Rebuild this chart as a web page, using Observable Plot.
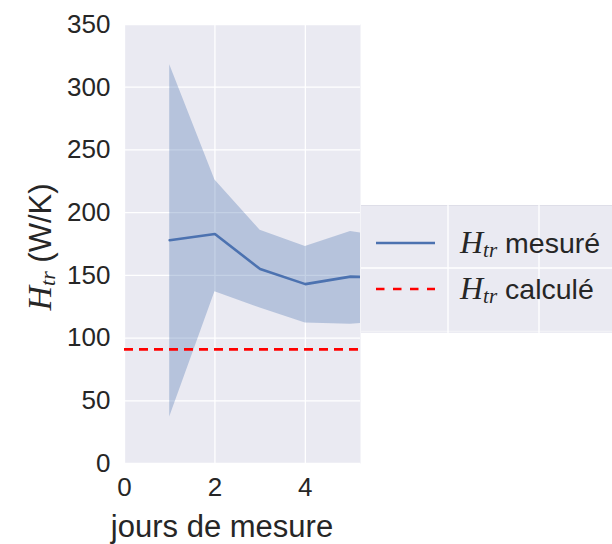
<!DOCTYPE html>
<html>
<head>
<meta charset="utf-8">
<script src="https://cdn.jsdelivr.net/npm/d3@7"></script>
<script src="https://cdn.jsdelivr.net/npm/@observablehq/plot@0.6"></script>
<style>
  html, body { margin: 0; padding: 0; background: #ffffff; }
  #wrap { position: relative; width: 612px; height: 544px; overflow: hidden; }
  #legend { position: absolute; left: 361px; top: 205px; }
</style>
</head>
<body>
<div id="wrap"></div>
<script>
// ---- data ----
const days   = [1, 2, 3, 4, 5, 6];
const meanH  = [178, 183, 155, 143, 149, 148];
const upperH = [318, 226, 186, 173, 185, 179];
const lowerH = [37, 137, 124, 112, 111, 114];
const calcH  = 91;
const xTicks = [0, 2, 4];
const yTicks = [0, 50, 100, 150, 200, 250, 300, 350];
const legendLabels = ["mesuré", "calculé"];
const xLabel = "jours de mesure";
const yUnit = " (W/K)";

const rows = days.map((d, i) => ({day: d, mean: meanH[i], hi: upperH[i], lo: lowerH[i]}));

const BLUE = "#4C72B0", RED = "#FF0000", BG = "#EAEAF2", TXT = "#262626";

const plot = Plot.plot({
  width: 612,
  height: 544,
  marginLeft: 124,
  marginRight: 252,
  marginTop: 24,
  marginBottom: 81,
  style: {fontFamily: "'Liberation Sans', Arial, sans-serif", fontSize: "26px", color: TXT, background: "transparent"},
  x: {domain: [0, 5.22], ticks: xTicks, tickFormat: d3.format("d"), tickSize: 0, tickPadding: 14, label: null},
  y: {domain: [0, 350], ticks: yTicks, tickFormat: d3.format("d"), tickSize: 0, tickPadding: 14, label: null},
  marks: [
    Plot.frame({fill: BG, stroke: null}),
    Plot.gridX(xTicks, {stroke: "white", strokeOpacity: 1, strokeWidth: 1.3}),
    Plot.gridY(yTicks, {stroke: "white", strokeOpacity: 1, strokeWidth: 1.3}),
    Plot.areaY(rows, {x: "day", y1: "lo", y2: "hi", fill: BLUE, fillOpacity: 0.33, clip: true}),
    Plot.lineY(rows, {x: "day", y: "mean", stroke: BLUE, strokeWidth: 2.6, clip: true}),
    Plot.ruleY([calcH], {stroke: RED, strokeWidth: 2.6, strokeDasharray: "9,6"})
  ]
});

const wrap = document.getElementById("wrap");
wrap.appendChild(plot);

const svg = d3.select(plot);
// x axis label
svg.append("text")
  .attr("x", 222).attr("y", 537)
  .attr("text-anchor", "middle")
  .attr("fill", TXT)
  .style("font-family", "'Liberation Sans', Arial, sans-serif")
  .style("font-size", "31px")
  .text(xLabel);

// y axis label with math-like H_tr
const yl = svg.append("text")
  .attr("transform", "translate(51,247) rotate(-90)")
  .attr("text-anchor", "middle")
  .attr("fill", TXT)
  .style("font-family", "'Liberation Sans', Arial, sans-serif")
  .style("font-size", "31px");
yl.append("tspan").style("font-family", "'Liberation Serif', serif").style("font-style", "italic")
  .style("font-size", "34px").text("H");
yl.append("tspan").style("font-family", "'Liberation Serif', serif").style("font-style", "italic")
  .style("font-size", "22px").attr("dy", "0.2em").text("tr");
yl.append("tspan").attr("dy", "-0.15em").text(yUnit);

// legend
const lg = d3.select(wrap).append("svg")
  .attr("id", "legend")
  .attr("width", 251).attr("height", 128);
lg.append("rect").attr("width", 251).attr("height", 128).attr("fill", BG);
lg.append("line").attr("x1", 0).attr("x2", 251).attr("y1", 0.5).attr("y2", 0.5).attr("stroke", "#dedee8").attr("stroke-width", 1);
lg.append("line").attr("x1", 0).attr("x2", 251).attr("y1", 126.5).attr("y2", 126.5).attr("stroke", "#f2f2f6").attr("stroke-width", 1.5);
[87, 178].forEach(x => lg.append("line").attr("x1", x).attr("x2", x).attr("y1", 0).attr("y2", 128).attr("stroke", "white").attr("stroke-width", 1.3));
lg.append("line").attr("x1", 0).attr("x2", 251).attr("y1", 63).attr("y2", 63).attr("stroke", "white").attr("stroke-width", 1.3);
const entries = [
  {label: legendLabels[0], color: BLUE, dash: null, y: 38, w: 2.6},
  {label: legendLabels[1], color: RED, dash: "8.5,8.5", y: 84, w: 2.6}
];
entries.forEach(e => {
  const ln = lg.append("line").attr("x1", 15).attr("x2", 74).attr("y1", e.y).attr("y2", e.y)
    .attr("stroke", e.color).attr("stroke-width", e.w);
  if (e.dash) ln.attr("stroke-dasharray", e.dash);
  const t = lg.append("text").attr("x", 99).attr("y", e.y + 10)
    .attr("fill", TXT)
    .style("font-family", "'Liberation Sans', Arial, sans-serif")
    .style("font-size", "28.5px");
  t.append("tspan").style("font-family", "'Liberation Serif', serif").style("font-style", "italic")
    .style("font-size", "32px").text("H");
  t.append("tspan").style("font-family", "'Liberation Serif', serif").style("font-style", "italic")
    .style("font-size", "21px").attr("dy", "0.2em").text("tr");
  t.append("tspan").attr("dy", "-0.15em").text(" " + e.label);
});
</script>
</body>
</html>
